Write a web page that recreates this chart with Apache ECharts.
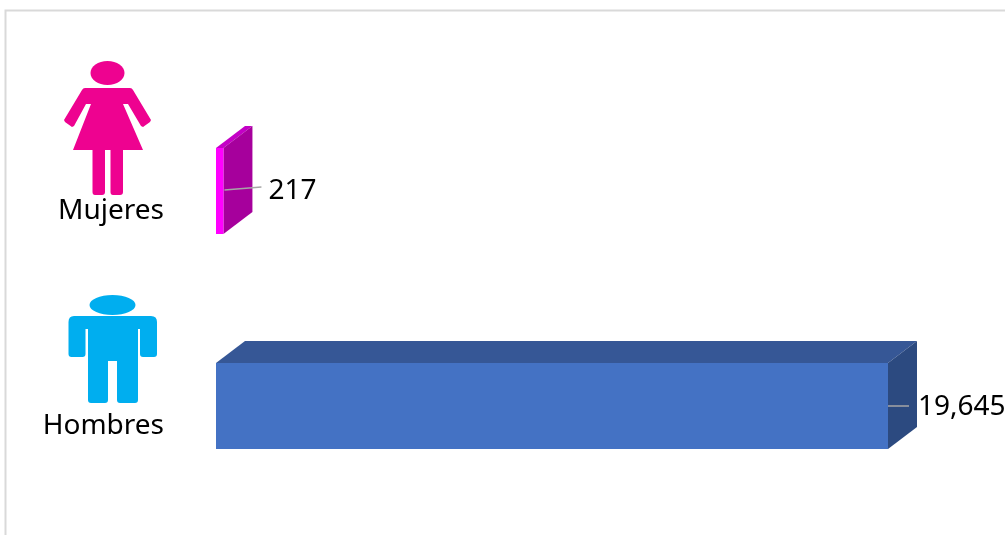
<!DOCTYPE html>
<html>
<head>
<meta charset="utf-8">
<style>html,body{margin:0;padding:0;background:#fff}#c{width:1005px;height:535px}</style>
<script src="https://cdn.jsdelivr.net/npm/echarts@6/dist/echarts.min.js"></script>
</head>
<body>
<div id="c"></div>
<script>
const categories = ['Hombres', 'Mujeres'];
const values = [19645, 217];
const valueLabels = ['19,645', '217'];

const faces = {
  Hombres: { front: '#4472c4', top: '#365796', side: '#2c4a80' },
  Mujeres: { front: '#ff00ff', top: '#c400c6', side: '#a6009c' }
};
const leaders = {
  Hombres: { x1: 0, y1: 0, x2: 21, y2: 0, textX: 30, textY: 1 },
  Mujeres: { x1: 1, y1: -1, x2: 38, y2: -4, textX: 45, textY: 0 }
};
const DEPTH_X = 29, DEPTH_Y = 22;
const FONT = '"Noto Sans", sans-serif';

const womanPath = 'M85 88 L130 88 Q132 88 133 90 L151 120 L150 122 L143 127 L141 126 L128 104 L123 104 L143 150 L123 150 L123 192 Q123 195 120 195 L113 195 Q110.5 195 110.5 192 L110.5 150 L105 150 L105 192 Q105 195 102 195 L95 195 Q92.5 195 92.5 192 L92.5 150 L73 150 L91 104 L86 104 L74 126 L72 127 L65 122 L64 120 L82 90 Q83 88 85 88 Z';
const manPath = 'M74 316 L151 316 Q157 316 157 322 L157 354 Q157 357 154 357 L143 357 Q140 357 140 354 L140 329 L138 329 L138 400 Q138 403 135 403 L120 403 Q117 403 117 400 L117 361 L108 361 L108 400 Q108 403 105 403 L91 403 Q88 403 88 400 L88 329 L85.5 329 L85.5 354 Q85.5 357 82.5 357 L71.5 357 Q68.5 357 68.5 354 L68.5 322 Q68.5 316 74 316 Z';

echarts.graphic.registerShape('womanIcon', echarts.graphic.extendPath(womanPath, {}));
echarts.graphic.registerShape('manIcon', echarts.graphic.extendPath(manPath, {}));

function poly(points, fill) {
  return { type: 'polygon', shape: { points }, style: { fill } };
}

const chart = echarts.init(document.getElementById('c'), null, { renderer: 'canvas' });
chart.setOption({
  animation: false,
  backgroundColor: '#ffffff',
  grid: { left: 216, width: 672, top: 83.5, height: 430 },
  xAxis: { type: 'value', min: 0, max: 19645, show: false },
  yAxis: {
    type: 'category',
    data: categories,
    axisLine: { show: false },
    axisTick: { show: false },
    splitLine: { show: false },
    axisLabel: {
      color: '#000',
      fontSize: 28,
      lineHeight: 28,
      fontFamily: FONT,
      margin: 52,
      verticalAlign: 'top',
      padding: [6, 0, 0, 0]
    }
  },
  graphic: [
    { type: 'polyline', shape: { points: [[5.5, 535], [5.5, 10.5], [1005, 10.5]] }, style: { stroke: '#d9d9d9', lineWidth: 2, fill: null }, silent: true },
    { type: 'ellipse', shape: { cx: 107.5, cy: 73, rx: 17, ry: 12 }, style: { fill: '#ee0290' }, silent: true },
    { type: 'womanIcon', style: { fill: '#ee0290' }, silent: true },
    { type: 'ellipse', shape: { cx: 112.5, cy: 305, rx: 23, ry: 10 }, style: { fill: '#00aeef' }, silent: true },
    { type: 'manIcon', style: { fill: '#00aeef' }, silent: true }
  ],
  series: [{
    type: 'custom',
    coordinateSystem: 'cartesian2d',
    encode: { x: 0, y: 1 },
    data: values.map((v, i) => [v, i]),
    renderItem(params, api) {
      const cat = categories[api.value(1)];
      const end = api.coord([api.value(0), api.value(1)]);
      const start = api.coord([0, api.value(1)]);
      const h = api.size([0, 1])[1] * 0.4;
      const x0 = start[0], x1 = end[0], t = end[1] - h / 2, b = end[1] + h / 2;
      const f = faces[cat], l = leaders[cat];
      return {
        type: 'group',
        children: [
          poly([[x0, t], [x0 + DEPTH_X, t - DEPTH_Y], [x1 + DEPTH_X, t - DEPTH_Y], [x1, t]], f.top),
          poly([[x1, t], [x1 + DEPTH_X, t - DEPTH_Y], [x1 + DEPTH_X, b - DEPTH_Y], [x1, b]], f.side),
          poly([[x0, t], [x1, t], [x1, b], [x0, b]], f.front),
          { type: 'line', shape: { x1: x1 + l.x1, y1: end[1] + l.y1, x2: x1 + l.x2, y2: end[1] + l.y2 }, style: { stroke: '#a6a6a6', lineWidth: 1.5 } },
          { type: 'text', style: { x: x1 + l.textX, y: end[1] + l.textY, text: valueLabels[api.value(1)], fill: '#000', font: '28px ' + FONT, align: 'left', verticalAlign: 'middle' } }
        ]
      };
    }
  }]
});
</script>
</body>
</html>
